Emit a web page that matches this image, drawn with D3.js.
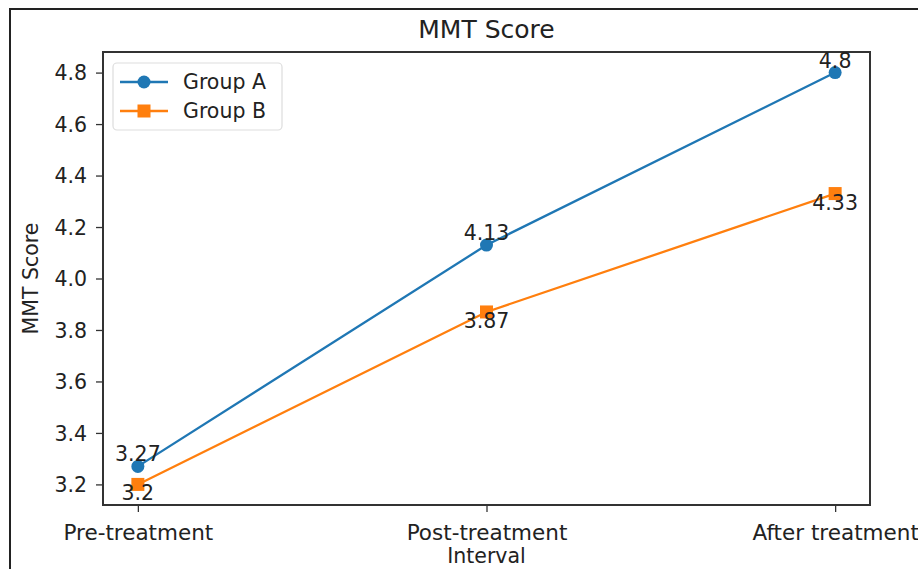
<!DOCTYPE html>
<html>
<head>
<meta charset="utf-8">
<script src="https://cdn.jsdelivr.net/npm/d3@7"></script>
<style>
  html, body { margin: 0; padding: 0; background: #fff; }
  svg { display: block; font-family: "DejaVu Sans", sans-serif; }
</style>
</head>
<body>
<script>
const categories = ["Pre-treatment", "Post-treatment", "After treatment"];
const groupA = [3.27, 4.13, 4.8];
const groupB = [3.2, 3.87, 4.33];
const seriesNames = ["Group A", "Group B"];
const yTicks = [3.2, 3.4, 3.6, 3.8, 4.0, 4.2, 4.4, 4.6, 4.8];
const colors = ["#1f77b4", "#ff7f0e"];

const W = 918, H = 569;
const plot = { left: 103, right: 870, top: 52, bottom: 505 };

const svg = d3.select("body").append("svg").attr("width", W).attr("height", H);

// outer frame
svg.append("path").attr("d", `M10,${H} L10,9 L${W},9`).attr("fill", "none")
  .attr("stroke", "#222").attr("stroke-width", 2);

const x = d3.scalePoint().domain(categories).range([plot.left, plot.right]).padding(0.1);
const y = d3.scaleLinear().domain([3.12, 4.88]).range([plot.bottom, plot.top]);

const fs = 20.5;
// x axis
const xAxis = svg.append("g").attr("transform", `translate(0,${plot.bottom})`)
  .call(d3.axisBottom(x).tickSize(7).tickPadding(9));
xAxis.select(".domain").remove();
xAxis.selectAll("line").attr("stroke", "#333").attr("stroke-width", 1.3);
xAxis.selectAll("text").attr("font-size", fs).attr("fill", "#222")
  .attr("font-family", "DejaVu Sans").attr("dy", "0.95em")
  .attr("transform", "scale(1.05,1)");

// y axis
const yAxis = svg.append("g").attr("transform", `translate(${plot.left},0)`)
  .call(d3.axisLeft(y).tickValues(yTicks).tickFormat(d3.format(".1f")).tickSize(7).tickPadding(9));
yAxis.select(".domain").remove();
yAxis.selectAll("line").attr("stroke", "#333").attr("stroke-width", 1.3);
yAxis.selectAll("text").attr("font-size", fs).attr("fill", "#222")
  .attr("font-family", "DejaVu Sans").attr("dy", "0.36em");

// spines
svg.append("rect").attr("x", plot.left).attr("y", plot.top)
  .attr("width", plot.right - plot.left).attr("height", plot.bottom - plot.top)
  .attr("fill", "none").attr("stroke", "#333").attr("stroke-width", 2);

// title & labels
svg.append("text").attr("x", (plot.left + plot.right) / 2).attr("y", 38)
  .attr("text-anchor", "middle").attr("font-size", 25).attr("fill", "#222").text("MMT Score");
svg.append("text").attr("x", (plot.left + plot.right) / 2).attr("y", 563)
  .attr("text-anchor", "middle").attr("font-size", fs).attr("fill", "#222").text("Interval");
svg.append("text").attr("transform", `translate(38,${(plot.top + plot.bottom) / 2}) rotate(-90)`)
  .attr("text-anchor", "middle").attr("font-size", fs).attr("fill", "#222").text("MMT Score");

const line = d3.line().x((d, i) => x(categories[i])).y(d => y(d));
const series = [groupA, groupB];

series.forEach((vals, s) => {
  svg.append("path").datum(vals).attr("d", line).attr("fill", "none")
    .attr("stroke", colors[s]).attr("stroke-width", 2.3);
});
// markers
svg.selectAll("circle.a").data(groupA).enter().append("circle")
  .attr("cx", (d, i) => x(categories[i])).attr("cy", d => y(d)).attr("r", 6.5).attr("fill", colors[0]);
svg.selectAll("rect.b").data(groupB).enter().append("rect")
  .attr("x", (d, i) => x(categories[i]) - 6.5).attr("y", d => y(d) - 6.5)
  .attr("width", 13).attr("height", 13).attr("fill", colors[1]);

// value labels
svg.selectAll("text.la").data(groupA).enter().append("text")
  .attr("x", (d, i) => x(categories[i])).attr("y", d => y(d) - 5)
  .attr("text-anchor", "middle").attr("font-size", fs).attr("fill", "#222").text(d => d);
svg.selectAll("text.lb").data(groupB).enter().append("text")
  .attr("x", (d, i) => x(categories[i])).attr("y", d => y(d) + 16)
  .attr("text-anchor", "middle").attr("font-size", fs).attr("fill", "#222").text(d => d);

// legend
const lg = svg.append("g");
lg.append("rect").attr("x", 113).attr("y", 63).attr("width", 169).attr("height", 67)
  .attr("rx", 4).attr("fill", "#fff").attr("fill-opacity", 0.8).attr("stroke", "#ddd").attr("stroke-width", 1.2);
const rowsY = [82, 111];
seriesNames.forEach((name, s) => {
  lg.append("line").attr("x1", 120).attr("x2", 168).attr("y1", rowsY[s]).attr("y2", rowsY[s])
    .attr("stroke", colors[s]).attr("stroke-width", 2.3);
  if (s === 0) {
    lg.append("circle").attr("cx", 144).attr("cy", rowsY[s]).attr("r", 6.5).attr("fill", colors[s]);
  } else {
    lg.append("rect").attr("x", 137.5).attr("y", rowsY[s] - 6.5).attr("width", 13).attr("height", 13).attr("fill", colors[s]);
  }
  lg.append("text").attr("x", 183).attr("y", rowsY[s]).attr("dy", "0.36em")
    .attr("font-size", fs).attr("fill", "#222").text(name);
});
</script>
</body>
</html>
